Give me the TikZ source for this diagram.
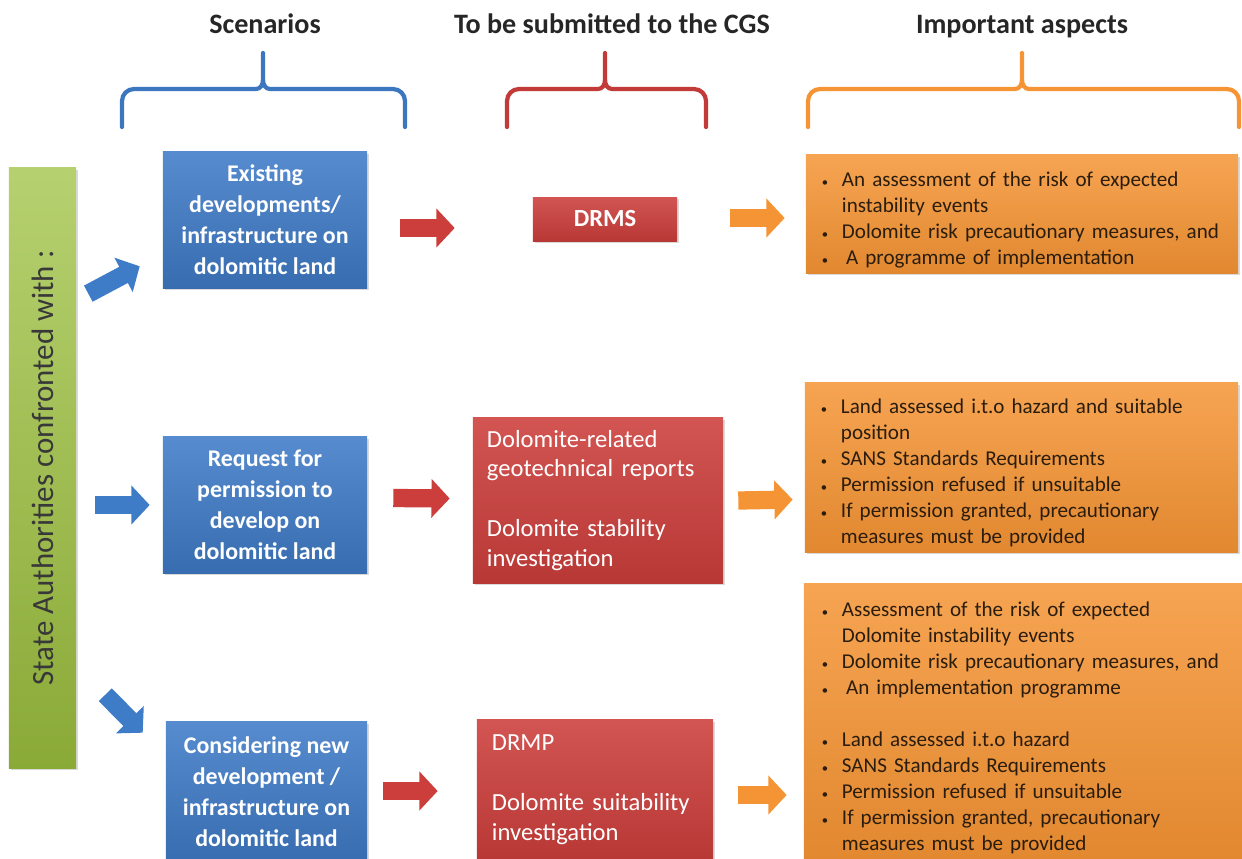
\documentclass[tikz,border=0pt]{standalone}
\usepackage{fontspec}
\setmainfont{Carlito}
\usepackage{tikz}
\usetikzlibrary{arrows.meta}
\usetikzlibrary{calc}
\usetikzlibrary{shadows}

\definecolor{scenblue}{HTML}{3F7CC8}
\definecolor{cgsred}{HTML}{CC3E3B}
\definecolor{aspectorange}{HTML}{F59434}
\definecolor{authgreen}{HTML}{9DC13F}
\definecolor{aspecttext}{HTML}{2B1D0E}

\newlength{\bulind}
\setlength{\bulind}{0.5cm}
\newcommand{\bul}[1]{\par\noindent\hangindent=\bulind\hangafter=1\makebox[\bulind][l]{\small\textbullet}#1}

\tikzset{
	panel/.style={rectangle,inner sep=0pt,drop shadow={opacity=0.3,shadow xshift=1.2pt,shadow yshift=-1.2pt}},
	scenario/.style={panel,top color=scenblue!88!white,bottom color=scenblue!88!black,text=white,align=center,font=\bfseries\fontsize{17}{22}\selectfont},
	report/.style={panel,top color=cgsred!88!white,bottom color=cgsred!90!black,text=white,align=left,font=\fontsize{17.5}{21.3}\selectfont},
	aspect/.style={panel,top color=aspectorange!85!white,bottom color=aspectorange!92!black,text=aspecttext,align=left,font=\fontsize{15}{18.5}\selectfont},
	heading/.style={anchor=base,font=\bfseries\fontsize{20}{24}\selectfont,text=black!85},
	brace line/.style={line width=3pt,line cap=round},
	block/.style={line width=13pt,-{Triangle[length=13pt,width=27pt]}},
}

\begin{document}
\begin{tikzpicture}[x=0.025cm,y=-0.025cm]
	\useasboundingbox (0,0) rectangle (1242,858);
	% column headings
	\node (hscen) [heading] at (265,33) {Scenarios};
	\node (hcgs) [heading] at (612,33) {To be submitted to the CGS};
	\node (hasp) [heading] at (1022,33) {Important aspects};
	\draw[brace line,scenblue!95!black] (122,127) -- (122,101) to[out=90,in=180] (134,89) -- (256,89) to[out=0,in=-90] (263,80) -- (263,53);
	\draw[brace line,scenblue!95!black] (263,80) to[out=-90,in=180] (270,89) -- (393,89) to[out=0,in=90] (405,101) -- (405,127);
	\draw[brace line,cgsred!95!black] (507,127) -- (507,101) to[out=90,in=180] (519,89) -- (598,89) to[out=0,in=-90] (605,80) -- (605,53);
	\draw[brace line,cgsred!95!black] (605,80) to[out=-90,in=180] (612,89) -- (694,89) to[out=0,in=90] (706,101) -- (706,127);
	\draw[brace line,aspectorange] (808,127) -- (808,101) to[out=90,in=180] (820,89) -- (1015,89) to[out=0,in=-90] (1022,80) -- (1022,53);
	\draw[brace line,aspectorange] (1022,80) to[out=-90,in=180] (1029,89) -- (1227,89) to[out=0,in=90] (1239,101) -- (1239,127);
	% left bar (rotated: its south side faces the scenarios)
	\node (authority) [panel,rotate=90,top color=authgreen!75!white,bottom color=authgreen!88!black,minimum width=15cm,minimum height=1.675cm,text=black!78,font=\fontsize{22}{26}\selectfont] at (42.5,468) {State Authorities confronted with :};
	% scenarios
	\node (b1) [scenario,minimum width=5.1cm,minimum height=3.4cm] at (265,220) {Existing\\developments/\\infrastructure on\\dolomitic land};
	\node (b2) [scenario,minimum width=5.1cm,minimum height=3.4cm] at (265,505) {Request for\\permission to\\develop on\\dolomitic land};
	\node (b3) [scenario,minimum width=5.025cm,minimum height=3.5cm] at (266.5,792) {Considering new\\development /\\infrastructure on\\dolomitic land};
	% submissions
	\node (drms) [report,align=center,font=\bfseries\fontsize{17.5}{21.3}\selectfont,minimum width=3.6cm,minimum height=1.1cm] at (605,219) {DRMS};
	\node (r2) [report,text width=5.55cm,inner xsep=0.35cm,minimum height=4.125cm] at (598,500.5) {Dolomite-related\\geotechnical reports\\[21.3pt]Dolomite stability\\investigation};
	\node (r3) [report,text width=5.15cm,inner xsep=0.375cm,minimum height=3.5cm] at (595,790) {DRMP\\[21.3pt]Dolomite suitability\\investigation};
	% aspects
	\node (o1) [aspect,text width=10cm,inner xsep=0.4cm,minimum height=2.95cm] at (1022,214) {%
		\bul{An assessment of the risk of expected\newline instability events}
		\bul{Dolomite risk precautionary measures, and}
		\bul{\hspace{3pt}A programme of implementation}\par};
	\node (o2) [aspect,text width=10.025cm,inner xsep=0.4cm,minimum height=4.225cm] at (1021.5,467.5) {%
		\bul{Land assessed i.t.o hazard and suitable\newline position}
		\bul{SANS Standards Requirements}
		\bul{Permission refused if unsuitable}
		\bul{If permission granted, precautionary\newline measures must be provided}\par};
	\node (o3) [aspect,text width=10.2cm,inner xsep=0.45cm,minimum height=6.9cm] at (1026,722) {%
		\bul{Assessment of the risk of expected\newline Dolomite instability events}
		\bul{Dolomite risk precautionary measures, and}
		\bul{\hspace{3pt}An implementation programme}
		\par\vspace{18.5pt}
		\bul{Land assessed i.t.o hazard}
		\bul{SANS Standards Requirements}
		\bul{Permission refused if unsuitable}
		\bul{If permission granted, precautionary\newline measures must be provided}\par};
	% connecting arrows
	\draw[block,scenblue] ($(authority.south east)+(12,126)$) -- ($(b1.south west)+(-23,-22)$);
	\draw[block,scenblue] ($(authority.south |- b2.west)+(19,0)$) -- ($(b2.west)+(-13,0)$);
	\draw[block,scenblue] ($(authority.south |- b3.north west)+(29,-27)$) -- ($(b3.north west)+(-23,11)$);
	\draw[block,cgsred] ($(b1.east)+(33,8)$) -- ($(drms.west)+(-78,9)$);
	\draw[block,cgsred] ($(b2.east)+(26,-7)$) -- ($(r2.west)+(-23,-2)$);
	\draw[block,cgsred] ($(b3.east)+(16,-1)$) -- ($(r3.west)+(-39,1)$);
	\draw[block,aspectorange] ($(drms.east)+(53,-1)$) -- ($(o1.west)+(-21,4)$);
	\draw[block,aspectorange] ($(r2.east)+(15,0)$) -- ($(o2.west)+(-12,32)$);
	\draw[block,aspectorange] ($(r3.east)+(25,5)$) -- ($(o3.west)+(-17,73)$);
\end{tikzpicture}
\end{document}
